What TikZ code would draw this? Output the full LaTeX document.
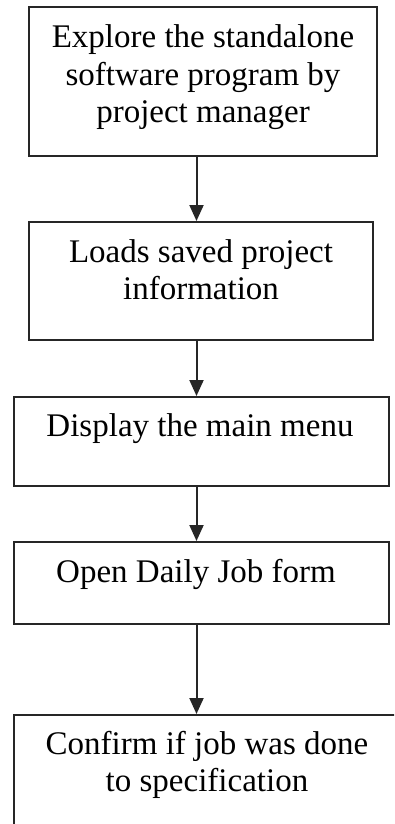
\documentclass[tikz,border=0pt]{standalone}
\usepackage{fontspec}
\setmainfont{Liberation Serif}
\usetikzlibrary{arrows.meta,calc}

\tikzset{
  stepbox/.style={draw=black!85, line width=2pt, inner sep=0pt, fill=none},
  steptext/.style={anchor=base, inner sep=0pt, font=\fontsize{33}{37.5}\selectfont},
  flow/.style={draw=black!85, line width=2pt, -{Triangle[length=16pt,width=14pt]}}
}

\newcommand{\steplines}[1]{\begin{tabular}[t]{@{}c@{}}#1\end{tabular}}

\begin{document}
\begin{tikzpicture}[x=1pt,y=-1pt]
  \useasboundingbox (0,0) rectangle (394,824);

  % process boxes
  \node[stepbox, minimum width=348pt, minimum height=149pt] (b1) at (203,81.5) {};
  \node[stepbox, minimum width=344pt, minimum height=118pt] (b2) at (201,281) {};
  \node[stepbox, minimum width=375pt, minimum height=89pt]  (b3) at (201.5,441.5) {};
  \node[stepbox, minimum width=375pt, minimum height=82pt]  (b4) at (201.5,583) {};
  \begin{scope}
    \clip (0,0) rectangle (394,824);
    \node[stepbox, minimum width=386pt, minimum height=130pt] (b5) at (207,780) {};
  \end{scope}

  % box captions, first baseline a fixed distance below each top edge
  \node[steptext] (t1) at ($(b1.north)+(0,42)$)
    {\steplines{Explore the standalone\\software program by\\project manager}};
  \node[steptext] (t2) at ($(b2.north)+(0,41)$)
    {\steplines{Loads saved project\\information}};
  \node[steptext] (t3) at ($(b3.north)+(-1.5,40)$)
    {\steplines{Display the main menu}};
  \node[steptext] (t4) at ($(b4.north)+(-5.5,41)$)
    {\steplines{Open Daily Job form}};
  \node[steptext] (t5) at ($(b5.north)+(0,40)$)
    {\steplines{Confirm if job was done\\to specification}};

  % flow connectors share one vertical axis
  \coordinate (ax) at (196.5,0);
  \draw[flow] (b1.south -| ax) -- (b2.north -| ax);
  \draw[flow] (b2.south -| ax) -- (b3.north -| ax);
  \draw[flow] (b3.south -| ax) -- (b4.north -| ax);
  \draw[flow] (b4.south -| ax) -- (b5.north -| ax);
\end{tikzpicture}
\end{document}
